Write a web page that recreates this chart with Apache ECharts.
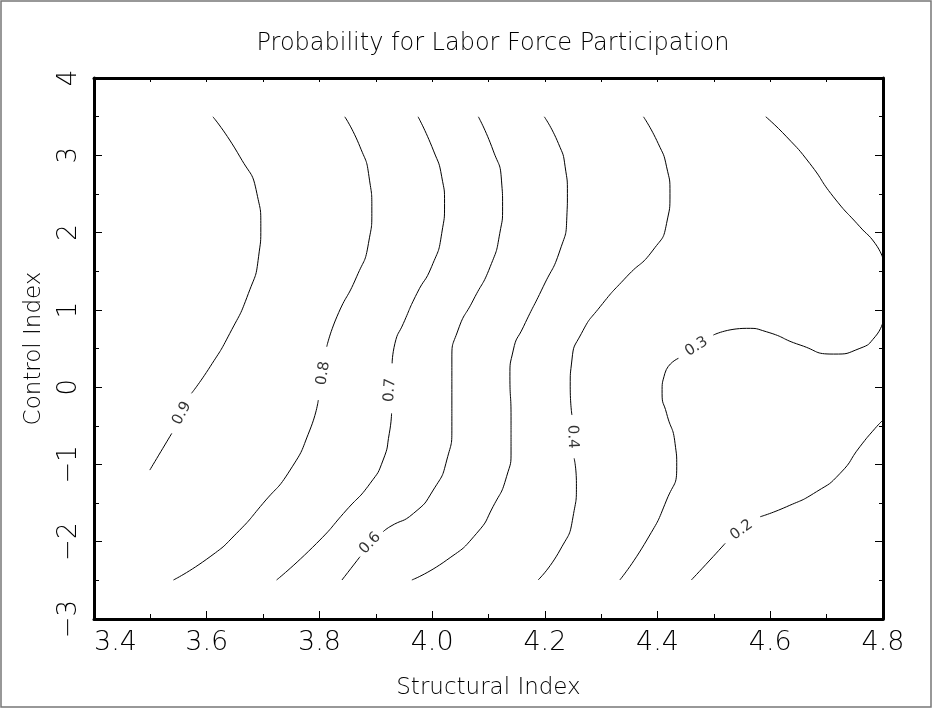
<!DOCTYPE html>
<html>
<head>
<meta charset="utf-8">
<script src="https://cdn.jsdelivr.net/npm/echarts@6/dist/echarts.min.js"></script>
<style>
html,body{margin:0;padding:0;background:#fff;}
#chart{width:932px;height:708px;}
</style>
</head>
<body>
<div id="chart"></div>
<script>
// Chart texts
const chartTitle = 'Probability for Labor Force Participation';
const xTitle = 'Structural Index';
const yTitle = 'Control Index';

// Axis ranges / ticks
const xMin = 3.4, xMax = 4.8, xStep = 0.2;
const yMin = -3, yMax = 4, yStep = 1;

// Contour lines [structural, control]; null = gap where the label sits
const c09 = [[3.611,3.498],[3.659,2.98],[3.689,2.507],[3.696,2.075],[3.692,1.687],[3.674,1.213],[3.641,0.696],[3.606,0.264],[3.573,-0.080],null,[3.538,-0.598],[3.499,-1.073]];
const c08 = [[3.845,3.498],[3.872,3.110],[3.888,2.722],[3.893,2.291],[3.887,1.860],[3.866,1.428],[3.831,0.911],[3.813,0.523],null,[3.798,-0.167],[3.783,-0.555],[3.748,-1.073],[3.700,-1.503],[3.653,-1.891],[3.606,-2.194],[3.541,-2.495]];
const c07 = [[3.975,3.498],[4.002,3.067],[4.017,2.722],[4.022,2.378],[4.017,1.990],[3.999,1.558],[3.973,1.213],[3.949,0.825],[3.934,0.567],[3.929,0.308],null,[3.928,-0.339],[3.924,-0.598],[3.913,-0.943],[3.890,-1.245],[3.848,-1.590],[3.795,-2.021],[3.724,-2.495]];
const c06 = [[4.082,3.498],[4.108,3.067],[4.123,2.679],[4.125,2.334],[4.120,1.990],[4.103,1.558],[4.073,1.127],[4.046,0.739],[4.035,0.351],[4.035,-0.167],[4.035,-0.512],[4.026,-0.943],[4.002,-1.331],[3.967,-1.633],[3.925,-1.806],[3.913,-1.871],null,[3.872,-2.194],[3.840,-2.495]];
const c05 = [[4.199,3.498],[4.224,3.154],[4.236,2.851],[4.240,2.507],[4.239,2.204],[4.227,1.774],[4.197,1.299],[4.162,0.781],[4.144,0.480],[4.138,0.135],[4.140,-0.383],[4.140,-0.814],[4.132,-1.159],[4.108,-1.547],[4.079,-1.891],[4.026,-2.237],[3.964,-2.495]];
const c04 = [[4.375,3.498],[4.401,3.154],[4.416,2.851],[4.422,2.507],[4.416,2.119],[4.392,1.774],[4.345,1.428],[4.298,1.040],[4.265,0.696],[4.248,0.351],[4.245,0.005],[4.248,-0.361],null,[4.252,-0.921],[4.256,-1.245],[4.250,-1.677],[4.227,-2.107],[4.188,-2.495]];
const c03 = [[4.333,-2.495],[4.381,-1.978],[4.416,-1.461],[4.434,-1.030],[4.431,-0.727],[4.416,-0.339],[4.408,-0.080],[4.413,0.179],[4.437,0.373],null,[4.499,0.674],[4.558,0.761],[4.593,0.717],[4.653,0.545],[4.712,0.428],[4.759,0.502],[4.786,0.652],[4.800,0.846]];
const c03b = [[4.592,3.498],[4.629,3.239],[4.670,2.895],[4.712,2.463],[4.759,2.075],[4.786,1.860],[4.800,1.666]];
const c02 = [[4.460,-2.495],[4.493,-2.237],[4.520,-2.021],null,[4.582,-1.677],[4.629,-1.547],[4.682,-1.353],[4.724,-1.115],[4.759,-0.771],[4.786,-0.533],[4.800,-0.426]];

// Contour label texts and anchor points
const labelTexts = ['0.9','0.8','0.7','0.6','0.4','0.3','0.2'];
const labelPoints = [[3.556,-0.339],[3.807,0.179],[3.925,-0.037],[3.890,-2.021],[4.249,-0.642],[4.469,0.523],[4.549,-1.849]];
const labelAngles = [62, 81, 86, 46, -88, 32, 36];

const contours = [c09,c08,c07,c06,c05,c04,c03,c03b,c02];

function splitSegments(arr){
  const segs=[]; let cur=[];
  arr.forEach(p=>{ if(p===null){ if(cur.length) segs.push(cur); cur=[]; } else cur.push(p); });
  if(cur.length) segs.push(cur);
  return segs;
}

const FONT = 'DejaVu Sans';
const series = [];
contours.forEach(c=>{
  splitSegments(c).forEach(seg=>{
    series.push({
      type:'line', data:seg, smooth:0.6, symbol:'none', silent:true,
      lineStyle:{color:'#000', width:1}, xAxisIndex:0, yAxisIndex:0, z:2
    });
  });
});
series.push({
  type:'scatter', symbolSize:0, silent:true, xAxisIndex:0, yAxisIndex:0, z:3,
  data: labelPoints.map((p,i)=>({value:p, name:labelTexts[i], label:{rotate:labelAngles[i]}})),
  label:{show:true, position:'inside', formatter:p=>p.name, color:'#000', fontSize:15, fontFamily:FONT, fontWeight:'normal'}
});

const axisLineStyle = {show:true, onZero:false, lineStyle:{color:'#000', width:3}};
const fmtY = v => (v<0 ? '\u2212'+Math.abs(v) : String(v));

const option = {
  animation:false,
  backgroundColor:'#fff',
  title:{
    text:chartTitle, left:488, top:27, textAlign:'center',
    textStyle:{fontFamily:FONT, fontSize:24, fontWeight:200, color:'#000'}
  },
  grid:{left:94, right:49, top:78, bottom:89},
  xAxis:[
    {type:'value', position:'bottom', min:xMin, max:xMax, interval:xStep,
     axisLine:axisLineStyle,
     axisTick:{show:true, inside:true, length:8, lineStyle:{color:'#000', width:1}},
     minorTick:{show:true, splitNumber:2, length:5, lineStyle:{color:'#000', width:1}},
     splitLine:{show:false},
     axisLabel:{formatter:v=>v.toFixed(1), fontSize:27, fontFamily:FONT, fontWeight:200, color:'#000', margin:10, alignMinLabel:'left', alignMaxLabel:'center'},
     name:xTitle, nameLocation:'middle', nameGap:58,
     nameTextStyle:{fontSize:23, fontFamily:FONT, fontWeight:200, color:'#000'}
    },
    {type:'value', position:'top', min:xMin, max:xMax, interval:0.1,
     axisLine:axisLineStyle,
     axisTick:{show:true, inside:true, length:4, lineStyle:{color:'#000', width:1}},
     splitLine:{show:false}, axisLabel:{show:false}
    }
  ],
  yAxis:[
    {type:'value', position:'left', min:yMin, max:yMax, interval:yStep,
     axisLine:axisLineStyle,
     axisTick:{show:true, inside:true, length:8, lineStyle:{color:'#000', width:1}},
     minorTick:{show:true, splitNumber:2, length:5, lineStyle:{color:'#000', width:1}},
     splitLine:{show:false},
     axisLabel:{formatter:fmtY, rotate:90, fontSize:26, fontFamily:FONT, fontWeight:200, color:'#000', margin:12},
     name:yTitle, nameLocation:'middle', nameGap:48,
     nameTextStyle:{fontSize:23, fontFamily:FONT, fontWeight:200, color:'#000'}
    },
    {type:'value', position:'right', min:yMin, max:yMax, interval:yStep,
     axisLine:axisLineStyle,
     axisTick:{show:true, inside:true, length:8, lineStyle:{color:'#000', width:1}},
     minorTick:{show:true, splitNumber:2, length:4, lineStyle:{color:'#000', width:1}},
     splitLine:{show:false}, axisLabel:{show:false}
    }
  ],
  graphic:[{type:'rect', shape:{x:1, y:1, width:930, height:706}, style:{fill:null, stroke:'#777', lineWidth:1.5}, silent:true, z:100}],
  series:series
};

const chart = echarts.init(document.getElementById('chart'), null, {renderer:'canvas'});
chart.setOption(option);
</script>
</body>
</html>
